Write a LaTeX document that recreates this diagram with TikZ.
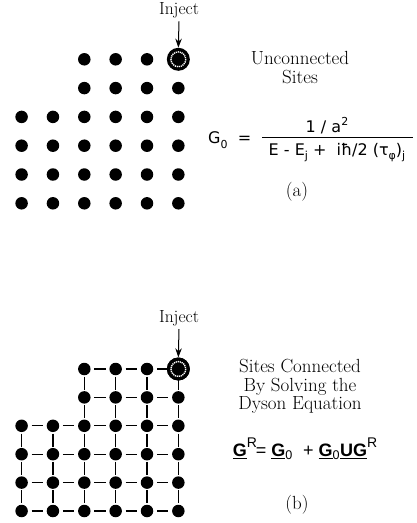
\documentclass[tikz,border=0pt]{standalone}
\usepackage{fontspec}
\newfontfamily\hv{Liberation Sans}
\newfontfamily\dv{DejaVu Sans}
\usetikzlibrary{arrows.meta}
\newcommand{\ulG}{\underline{\textbf{G}}}
\newcommand{\supR}{\raisebox{0.5em}{\fontsize{14}{14}\selectfont R}}
\newcommand{\lsub}[1]{\raisebox{-0.3em}{\fontsize{11}{11}\selectfont #1}}
\begin{document}
\begin{tikzpicture}[x=1pt,y=-1pt,
  site/.style={circle,fill=black,inner sep=0pt,minimum size=12.5pt},
  injsite/.style={circle,fill=black,inner sep=0pt,minimum size=23pt},
  injring/.style={white,line width=1.4pt,dash pattern=on 1.2pt off 0.8pt},
  link/.style={line width=1.3pt,black},
  hlink/.style={link,shorten <=10pt,shorten >=10pt},
  vlink/.style={link,shorten <=7.7pt,shorten >=7.7pt},
  lbl/.style={font=\fontsize{19}{18.7}\selectfont,align=center,inner sep=0pt},
  eqa/.style={font=\dv\fontsize{16}{18}\selectfont,inner sep=0pt},
  injlbl/.style={font=\fontsize{17.5}{17.5}\selectfont,inner sep=0pt,anchor=base},
  injarrow/.style={-{Stealth[length=9pt,width=6.5pt]},line width=1pt}]
\useasboundingbox (0,0) rectangle (417,523);

% ---------- (a) unconnected sites ----------
\foreach \r in {0,...,5}{
  \foreach \c in {0,...,5}{
    \pgfmathtruncatemacro{\ok}{(\r>1 || \c>1) && !(\r==0 && \c==5)}
    \ifnum\ok=1
      \node[site] (a\r\c) at ({21.6+31.35*\c},{59.3+28.8*\r}) {};
    \fi
  }
}
\node[injsite] (a05) at ({21.6+31.35*5},59.3) {};
\draw[injring] (a05.center) circle (7.4);
\node[injlbl] (injA) at (179,14.3) {Inject};
\path (injA.base) ++(0,7) coordinate (injAs);
\draw[injarrow] (injAs) -- (a05.north);

\node[lbl] (titleA) at (300,67.3) {Unconnected\\Sites};
\node[eqa,anchor=west] (eqAl) at (208,140) {G\lsub{0}\ \ =};
\node[eqa] (eqAn) at (327,126) {1 / a\raisebox{0.45em}{\fontsize{11}{11}\selectfont 2}};
\node[eqa] (eqAd) at (337,152.5) {E - E\lsub{j}\ + \ iħ/2 (τ\lsub{φ})\lsub{j}};
\coordinate (barL) at (262,137.3);
\coordinate (barR) at (413,137.3);
\draw[line width=0.8pt] (barL) -- (barR);
\node[lbl] (capA) at (297,192) {(a)};

% ---------- (b) connected sites ----------
\foreach \r in {0,...,5}{
  \foreach \c in {0,...,5}{
    \pgfmathtruncatemacro{\ok}{(\r>1 || \c>1) && !(\r==0 && \c==5)}
    \ifnum\ok=1
      \node[site] (b\r\c) at ({21.6+31.35*\c},{369+28.4*\r}) {};
    \fi
  }
}
\node[injsite] (b05) at ({21.6+31.35*5},369) {};
% horizontal links
\foreach \r in {0,1}{
  \foreach \c/\n in {2/3,3/4,4/5}{
    \draw[hlink] (b\r\c.center) -- (b\r\n.center);
  }
}
\foreach \r in {2,...,5}{
  \foreach \c/\n in {0/1,1/2,2/3,3/4,4/5}{
    \draw[hlink] (b\r\c.center) -- (b\r\n.center);
  }
}
% vertical links
\foreach \c in {2,...,5}{
  \draw[vlink] (b0\c.center) -- (b1\c.center);
  \draw[vlink] (b1\c.center) -- (b2\c.center);
}
\foreach \r/\n in {2/3,3/4,4/5}{
  \foreach \c in {0,...,5}{
    \draw[vlink] (b\r\c.center) -- (b\n\c.center);
  }
}
\fill (b05.center) circle (11.5);
\draw[injring] (b05.center) circle (7.4);
\node[injlbl] (injB) at (179,322) {Inject};
\path (injB.base) ++(0,7) coordinate (injBs);
\draw[injarrow] (injBs) -- (b05.north);

\node[lbl] (titleB) at (300,386.5) {Sites Connected\\By Solving the\\Dyson Equation};
\node[inner sep=0pt,font=\hv\fontsize{18}{20}\selectfont] (eqB) at (305,449)
  {\ulG\supR\kern-1pt= \ulG\textsubscript{0} \ + \ulG\textsubscript{0}\underline{\textbf{U}}\ulG\supR};
\node[lbl] (capB) at (297,505) {(b)};
\end{tikzpicture}
\end{document}
